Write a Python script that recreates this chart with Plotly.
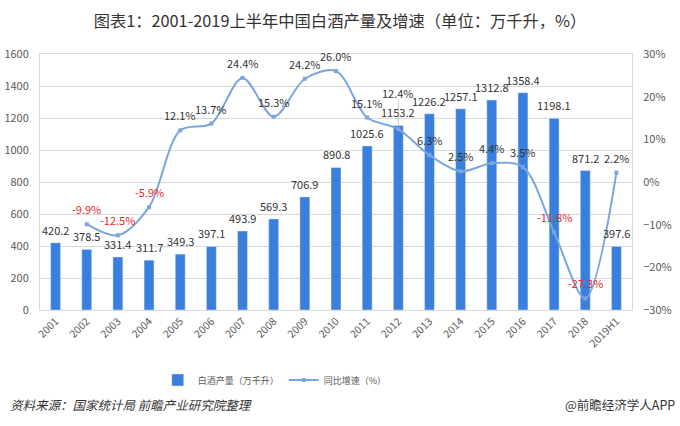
import plotly.graph_objects as go

years = ["2001", "2002", "2003", "2004", "2005", "2006", "2007", "2008", "2009", "2010",
         "2011", "2012", "2013", "2014", "2015", "2016", "2017", "2018", "2019H1"]
output = [420.2, 378.5, 331.4, 311.7, 349.3, 397.1, 493.9, 569.3, 706.9, 890.8,
          1025.6, 1153.2, 1226.2, 1257.1, 1312.8, 1358.4, 1198.1, 871.2, 397.6]
growth = [None, -9.9, -12.5, -5.9, 12.1, 13.7, 24.4, 15.3, 24.2, 26.0,
          15.1, 12.4, 6.3, 2.5, 4.4, 3.5, -11.8, -27.3, 2.2]

FONT = "Noto Sans CJK SC, Microsoft YaHei, sans-serif"
BAR_COLOR = "#3a7fdc"
LINE_COLOR = "#7aa6de"
RED = "#e8262c"
DARK = "#333333"

fig = go.Figure()
fig.add_trace(go.Bar(
    x=years, y=output, name="白酒产量（万千升）",
    marker=dict(color=BAR_COLOR), width=0.32, yaxis="y",
))
fig.add_trace(go.Scatter(
    x=years, y=growth, name="同比增速（%）", yaxis="y2",
    mode="lines+markers",
    line=dict(color=LINE_COLOR, width=2, shape="spline", smoothing=0.9),
    marker=dict(symbol="square", size=4, color=LINE_COLOR),
    cliponaxis=False, connectgaps=False,
))

annotations = []
# category axis: annotation x given as the category's index
for i, v in enumerate(output):
    annotations.append(dict(
        x=i, y=v, xref="x", yref="y", text=f"{v:.1f}", showarrow=False,
        yanchor="middle", yshift=13, font=dict(size=11, color=DARK, family=FONT)))

for i, g in enumerate(growth):
    if g is None:
        continue
    col = DARK if g >= 0 else RED
    if years[i] == "2012":
        annotations.append(dict(
            x=i, y=g, xref="x", yref="y2", text=f"{g:.1f}%", showarrow=True,
            ax=0, ay=-36, arrowhead=0, arrowwidth=0.6, arrowcolor="#a6a6a6",
            standoff=3, font=dict(size=11, color=col, family=FONT)))
    else:
        annotations.append(dict(
            x=i, y=g, xref="x", yref="y2", text=f"{g:.1f}%", showarrow=False,
            yanchor="middle", yshift=15, font=dict(size=11, color=col, family=FONT)))

annotations += [
    dict(text="资料来源：国家统计局 前瞻产业研究院整理", xref="paper", yref="paper",
         x=-0.054, y=-0.371, xanchor="left", yanchor="middle", showarrow=False,
         font=dict(size=12.5, color=DARK, family=FONT, style="italic")),
    dict(text="@前瞻经济学人APP", xref="paper", yref="paper",
         x=1.076, y=-0.371, xanchor="right", yanchor="middle", showarrow=False,
         font=dict(size=12.5, color=DARK, family=FONT)),
]

fig.update_layout(
    width=680, height=426,
    margin=dict(l=40, r=48, t=54, b=116, autoexpand=False),
    paper_bgcolor="white", plot_bgcolor="white",
    font=dict(family=FONT, size=11, color="#595959"),
    title=dict(text="图表1：2001-2019上半年中国白酒产量及增速（单位：万千升，%）",
               x=0.5, xanchor="center", y=0.95, yanchor="middle",
               font=dict(size=16.3, color=DARK, family=FONT)),
    showlegend=True,
    legend=dict(orientation="h", xref="container", yref="container",
                x=0.232, xanchor="left", y=0.108, yanchor="middle",
                font=dict(size=9, color="#595959", family=FONT),
                bgcolor="rgba(0,0,0,0)"),
    xaxis=dict(type="category", range=[-0.5, len(years) - 0.5],
               tickangle=-45, tickfont=dict(size=10.5, color="#595959"),
               showline=True, linecolor="#d9d9d9", mirror=True, ticks="",
               showgrid=False, automargin=False),
    yaxis=dict(range=[0, 1600], dtick=200, showgrid=True, gridcolor="#d9d9d9",
               tickfont=dict(size=11, color="#595959"), zeroline=False,
               ticks="outside", ticklen=8, tickcolor="rgba(0,0,0,0)",
               showline=True, linecolor="#d9d9d9", mirror=True, automargin=False),
    yaxis2=dict(range=[-30, 30], dtick=10, overlaying="y", side="right",
                ticksuffix="%", showgrid=False, zeroline=False, automargin=False,
                ticks="outside", ticklen=8, tickcolor="rgba(0,0,0,0)",
                tickfont=dict(size=11, color="#595959")),
    annotations=annotations,
)

fig.write_html("out.html", config={"displayModeBar": False},
               post_script="document.body.style.margin='0';")
